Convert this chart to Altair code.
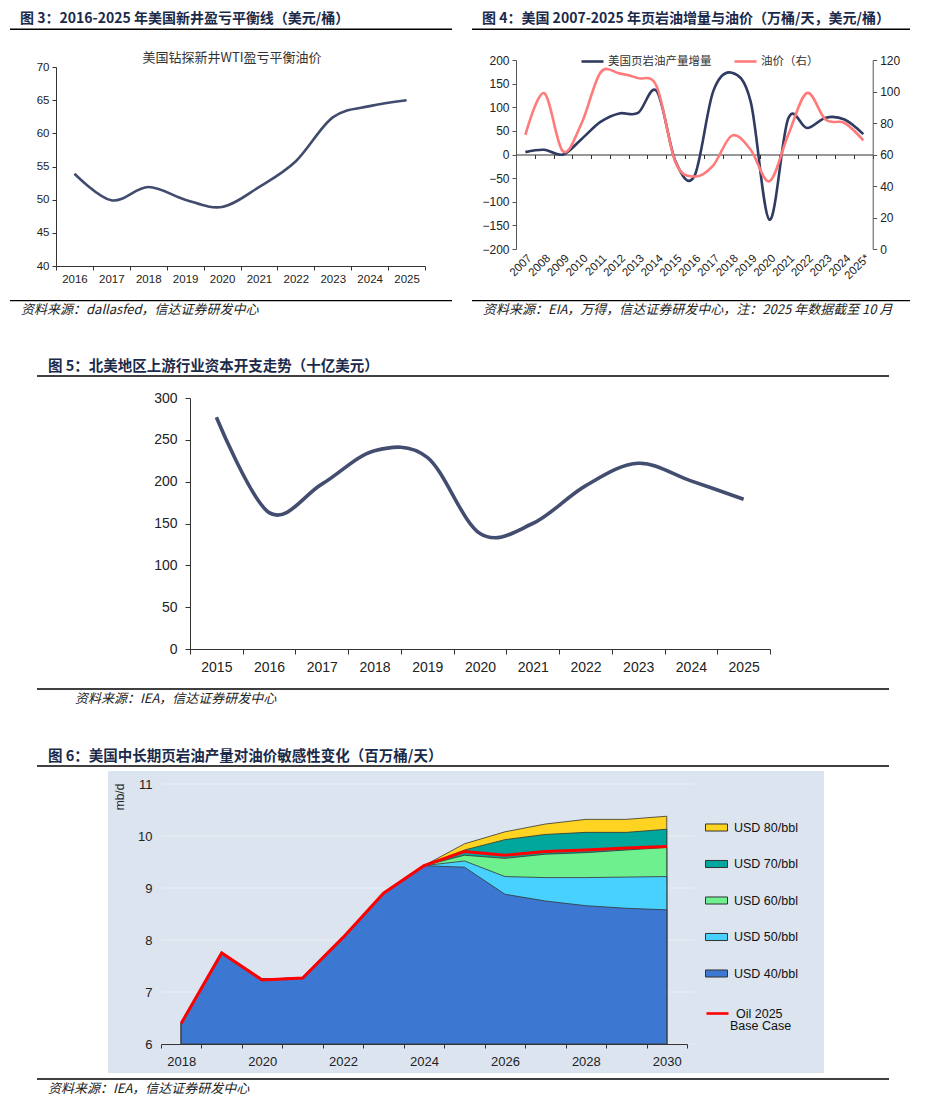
import altair as alt
import pandas as pd

CJK = "Noto Sans CJK SC"
NUM = "Liberation Sans"
TITLE_C = "#1B2A4A"
SRC_C = "#222222"
W, H = 912, 1095  # whole canvas (page minus 8px margin)

# ---------------- Figure 3 data ----------------
f3_title = "图 3：2016-2025 年美国新井盈亏平衡线（美元/桶）"
f3_subtitle = "美国钻探新井WTI盈亏平衡油价"
f3_source = "资料来源：dallasfed，信达证券研发中心"
f3_years = ["2016", "2017", "2018", "2019", "2020", "2021", "2022", "2023", "2024", "2025"]
f3_breakeven = [53.9, 49.9, 51.9, 50.0, 48.9, 51.9, 55.8, 62.4, 64.1, 65.0]
f3_yticks = [40, 45, 50, 55, 60, 65, 70]

# ---------------- Figure 4 data ----------------
f4_title = "图 4：美国 2007-2025 年页岩油增量与油价（万桶/天，美元/桶）"
f4_source = "资料来源：EIA，万得，信达证券研发中心，注：2025 年数据截至 10 月"
f4_years = ["2007", "2008", "2009", "2010", "2011", "2012", "2013", "2014", "2015", "2016",
            "2017", "2018", "2019", "2020", "2021", "2022", "2023", "2024", "2025*"]
f4_growth = [5, 10, 0, 33, 69, 87, 88, 134, -15, -46, 133, 173, 112, -138, 76, 56, 78, 74, 43]
f4_price = [72.5, 99, 62, 80, 112, 111.5, 108.5, 103, 55, 46, 53, 72, 63, 43, 72.5, 99, 82, 80, 69]
f4_series = ["美国页岩油产量增量", "油价（右）"]
f4_left_ticks = [-200, -150, -100, -50, 0, 50, 100, 150, 200]
f4_right_ticks = [0, 20, 40, 60, 80, 100, 120]

# ---------------- Figure 5 data ----------------
f5_title = "图 5：北美地区上游行业资本开支走势（十亿美元）"
f5_source = "资料来源：IEA，信达证券研发中心"
f5_years = ["2015", "2016", "2017", "2018", "2019", "2020", "2021", "2022", "2023", "2024", "2025"]
f5_capex = [277, 163, 197, 237, 229, 138, 150, 195, 222, 201, 179]
f5_yticks = [0, 50, 100, 150, 200, 250, 300]

# ---------------- Figure 6 data ----------------
f6_title = "图 6：美国中长期页岩油产量对油价敏感性变化（百万桶/天）"
f6_source = "资料来源：IEA，信达证券研发中心"
f6_years = [2018, 2019, 2020, 2021, 2022, 2023, 2024, 2025, 2026, 2027, 2028, 2029, 2030]
f6_usd40 = [6.4, 7.75, 7.25, 7.27, 8.05, 8.9, 9.43, 9.40, 8.88, 8.75, 8.66, 8.61, 8.58]
f6_usd50 = [6.4, 7.75, 7.25, 7.27, 8.05, 8.9, 9.43, 9.52, 9.22, 9.20, 9.20, 9.21, 9.22]
f6_usd60 = [6.4, 7.75, 7.25, 7.27, 8.05, 8.9, 9.43, 9.63, 9.57, 9.65, 9.68, 9.73, 9.78]
f6_usd70 = [6.4, 7.75, 7.25, 7.27, 8.05, 8.9, 9.43, 9.73, 9.93, 10.03, 10.07, 10.07, 10.13]
f6_usd80 = [6.4, 7.75, 7.25, 7.27, 8.05, 8.9, 9.43, 9.85, 10.08, 10.23, 10.32, 10.32, 10.38]
f6_basecase = [6.4, 7.75, 7.23, 7.27, 8.05, 8.9, 9.43, 9.70, 9.63, 9.70, 9.73, 9.77, 9.80]
f6_scenarios = ["USD 80/bbl", "USD 70/bbl", "USD 60/bbl", "USD 50/bbl", "USD 40/bbl"]
f6_colors = ["#FFD321", "#00A79D", "#6EF08E", "#48D1FF", "#3C78D2"]
f6_base_label = "Oil 2025"
f6_base_label2 = "Base Case"
f6_yticks = [6, 7, 8, 9, 10, 11]
f6_xlabels = [2018, 2020, 2022, 2024, 2026, 2028, 2030]
f6_xticks = [2017.5 + i for i in range(14)]
f6_xdomain = [2017.5, 2030.5]
f6_unit = "mb/d"


# ---------------- helpers (page px -> canvas px) ----------------
def cx(px):
    return px - 8


def cy(py):
    return py - 8


def one(v="x"):
    return pd.DataFrame({"t": [v]})


def text_at(s, px, py, size, weight="normal", style="normal", align="left",
            color=SRC_C, font=CJK, angle=0):
    return alt.Chart(one(s)).mark_text(
        align=align, baseline="middle", fontSize=size, fontWeight=weight,
        fontStyle=style, color=color, font=font, angle=angle
    ).encode(text="t:N", x=alt.value(cx(px)), y=alt.value(cy(py)))


def hrule(px1, px2, py, color="#000000", width=1.2):
    return alt.Chart(one()).mark_rule(color=color, strokeWidth=width).encode(
        x=alt.value(cx(px1)), x2=alt.value(cx(px2)), y=alt.value(cy(py)))


def band(domain, px0, px1):
    return alt.Scale(domain=domain, range=[cx(px0), cx(px1)], paddingInner=0, paddingOuter=0)


def lin(domain, py_bottom, py_top):
    return alt.Scale(domain=domain, range=[cy(py_bottom), cy(py_top)], nice=False, zero=False)


AX = dict(title=None, grid=False, zindex=1, labelFont=NUM, labelColor="#222222",
          domainColor="#333333", tickColor="#333333")


def bottom_axis(py, **kw):
    base = dict(AX, orient="bottom", offset=cy(py) - H)
    base.update(kw)
    return alt.Axis(**base)


def left_axis(px, **kw):
    base = dict(AX, orient="left", offset=-cx(px))
    base.update(kw)
    return alt.Axis(**base)


def right_axis(px, **kw):
    base = dict(AX, orient="right", offset=cx(px) - W)
    base.update(kw)
    return alt.Axis(**base)


layers = []

# ---------------- Figure 3 ----------------
f3_df = pd.DataFrame({"year": f3_years, "v": f3_breakeven})
layers += [
    text_at(f3_title, 20, 18.5, 14, weight="bold", color=TITLE_C),
    hrule(10, 452, 29.3, width=1.5),
    text_at(f3_subtitle, 232, 58, 13, align="center", color="#333333"),
    alt.Chart(f3_df).mark_line(color="#414B6E", strokeWidth=2.6, interpolate="cardinal").encode(
        x=alt.X("year:N", scale=band(f3_years, 56, 425),
                axis=bottom_axis(266, labelAngle=0, tickBand="extent", tickSize=4,
                                 labelPadding=3, labelFontSize=11.5)),
        y=alt.Y("v:Q", scale=lin([40, 70], 266, 67),
                axis=left_axis(56, values=f3_yticks, tickSize=4, labelPadding=3, labelFontSize=11.5))),
    hrule(10, 452, 300.7, width=1.3),
    text_at(f3_source, 21, 310, 13, style="italic"),
]

# ---------------- Figure 4 ----------------
f4_df = pd.DataFrame({"year": f4_years, "growth": f4_growth, "price": f4_price})
f4_color = alt.Scale(domain=f4_series, range=["#2F3B60", "#FF7A7A"])
F4X0, F4X1, F4YB, F4YT = 516, 872.7, 249, 60
f4_zero_py = (F4YB + F4YT) / 2
layers += [
    text_at(f4_title, 482, 18.5, 14, weight="bold", color=TITLE_C),
    hrule(472, 910, 29.3, width=1.5),
    # zero line with band-edge ticks (an axis on its own copy of the x scale)
    alt.Chart(f4_df).mark_point(opacity=0).encode(
        x=alt.X("year:N", scale=band(f4_years, F4X0, F4X1),
                axis=bottom_axis(f4_zero_py, labels=False, tickBand="extent", tickSize=4,
                                 domainWidth=1.2, domainColor="#333333", zindex=0))),
    alt.Chart(f4_df).transform_calculate(series="'" + f4_series[0] + "'").mark_line(
        strokeWidth=2.6, interpolate="cardinal").encode(
        x=alt.X("year:N", scale=band(f4_years, F4X0, F4X1),
                axis=bottom_axis(F4YB, labelAngle=-45, labelAlign="right", labelBaseline="top",
                                 domain=False, ticks=False, labelPadding=3, labelFontSize=11.5)),
        y=alt.Y("growth:Q", scale=lin([-200, 200], F4YB, F4YT),
                axis=left_axis(F4X0, values=f4_left_ticks, tickSize=4, labelPadding=3,
                               labelFontSize=12, domainColor="#555555", tickColor="#555555")),
        color=alt.Color("series:N", scale=f4_color,
                        legend=alt.Legend(title=None, orient="none", legendX=cx(580), legendY=cy(49),
                                          direction="horizontal", symbolType="stroke",
                                          symbolSize=484, symbolStrokeWidth=2.6,
                                          labelFont=CJK, labelFontSize=11.5, labelColor="#333333",
                                          labelOffset=3, columnPadding=17, padding=0))),
    alt.Chart(f4_df).transform_calculate(series="'" + f4_series[1] + "'").mark_line(
        strokeWidth=2.6, interpolate="cardinal").encode(
        x=alt.X("year:N", scale=band(f4_years, F4X0, F4X1), axis=None),
        y=alt.Y("price:Q", scale=lin([0, 120], F4YB, F4YT),
                axis=right_axis(F4X1, values=f4_right_ticks, tickSize=4, labelPadding=3,
                                labelFontSize=12, domainColor="#555555", tickColor="#555555")),
        color=alt.Color("series:N", scale=f4_color)),
    hrule(472, 910, 300.7, width=1.3),
    text_at(f4_source, 483, 310, 13, style="italic"),
]

# ---------------- Figure 5 ----------------
f5_df = pd.DataFrame({"year": f5_years, "v": f5_capex})
layers += [
    text_at(f5_title, 48, 367, 14.5, weight="bold", color=TITLE_C),
    hrule(37, 889, 376, width=1.5),
    alt.Chart(f5_df).mark_line(color="#434D6F", strokeWidth=3.6, interpolate="cardinal").encode(
        x=alt.X("year:N", scale=band(f5_years, 190, 770),
                axis=bottom_axis(649, labelAngle=0, tickBand="extent", tickSize=5,
                                 labelPadding=6, labelFontSize=14)),
        y=alt.Y("v:Q", scale=lin([0, 300], 649, 398),
                axis=left_axis(190, values=f5_yticks, tickSize=5, labelPadding=8, labelFontSize=14))),
    hrule(37, 889, 689, width=1.3),
    text_at(f5_source, 75, 699, 13, style="italic"),
]

# ---------------- Figure 6 ----------------
F6X0, F6X1, F6YB, F6YT = 161, 687, 1044, 784
rows = []
for name, vals in zip(f6_scenarios, [f6_usd80, f6_usd70, f6_usd60, f6_usd50, f6_usd40]):
    for yr, v in zip(f6_years, vals):
        rows.append({"scenario": name, "year": yr, "v": v})
f6_df = pd.DataFrame(rows)
f6_base_df = pd.DataFrame({"year": f6_years, "v": f6_basecase, "case": f6_base_label})
f6_xs = alt.Scale(domain=f6_xdomain, range=[cx(F6X0), cx(F6X1)], nice=False, zero=False)
f6_ys = lin([6, 11], F6YB, F6YT)
fill_scale = alt.Scale(domain=f6_scenarios, range=f6_colors)

layers += [
    text_at(f6_title, 48, 757, 14.5, weight="bold", color=TITLE_C),
    hrule(37, 889, 766, width=1.5),
    alt.Chart(one()).mark_rect(color="#DCE4F0").encode(
        x=alt.value(cx(108)), x2=alt.value(cx(824)), y=alt.value(cy(771)), y2=alt.value(cy(1073))),
    alt.Chart(pd.DataFrame({"g": f6_yticks})).mark_rule(color="#E9EEF6", strokeWidth=1).encode(
        y=alt.Y("g:Q", scale=f6_ys,
                axis=left_axis(F6X0, values=f6_yticks, domain=False, ticks=False,
                               labelPadding=9, labelFontSize=13)),
        x=alt.value(cx(F6X0)), x2=alt.value(cx(F6X1 + 8))),
]
for i, name in enumerate(f6_scenarios):
    leg = None
    if i == 0:
        leg = alt.Legend(title=None, orient="none", legendX=cx(705), legendY=cy(816),
                         direction="vertical", symbolType="M-1,-0.32H1V0.32H-1Z",
                         symbolSize=484, symbolStrokeColor="#333333", symbolStrokeWidth=1,
                         rowPadding=18.5, labelOffset=6, labelFont=NUM, labelFontSize=12.5,
                         labelColor="#111111", padding=0, symbolOpacity=1)
    xax = None
    if i == 0:
        xax = bottom_axis(F6YB, values=f6_xlabels, format="d", domain=False, ticks=False,
                          labelPadding=11, labelFontSize=13, labelFlush=False)
    layers.append(
        alt.Chart(f6_df).transform_filter(alt.datum.scenario == name).mark_area(
            stroke="#333333", strokeWidth=0.8, opacity=1).encode(
            x=alt.X("year:Q", scale=f6_xs, axis=xax),
            y=alt.Y("v:Q", scale=f6_ys, axis=None),
            y2=alt.datum(6),
            fill=alt.Fill("scenario:N", scale=fill_scale, legend=leg)))

layers += [
    alt.Chart(f6_base_df).mark_line(strokeWidth=3).encode(
        x=alt.X("year:Q", scale=f6_xs, axis=None),
        y=alt.Y("v:Q", scale=f6_ys, axis=None),
        stroke=alt.Stroke("case:N", scale=alt.Scale(domain=[f6_base_label], range=["#FF0000"]),
                          legend=alt.Legend(title=None, orient="none", legendX=cx(705), legendY=cy(1001),
                                            symbolType="stroke", symbolSize=484, symbolStrokeWidth=2.6,
                                            labelOffset=6, labelFont=NUM, labelFontSize=12.5,
                                            labelColor="#111111", padding=0))),
    # axis line with half-year ticks (own copy of the x scale)
    alt.Chart(pd.DataFrame({"year": f6_xdomain})).mark_point(opacity=0).encode(
        x=alt.X("year:Q", scale=f6_xs,
                axis=bottom_axis(F6YB, values=f6_xticks + [2030.5], labels=False, tickSize=4))),
    text_at(f6_unit, 120, 797, 12, align="center", color="#222222", font=NUM, angle=270),
    text_at(f6_base_label2, 730, 1026, 12.5, color="#111111", font=NUM),
    hrule(37, 889, 1079, width=1.3),
    text_at(f6_source, 48, 1089, 13, style="italic"),
]

chart = alt.layer(*layers).resolve_scale(
    x="independent", y="independent"
).properties(
    width=W, height=H, padding=0, autosize=alt.AutoSizeParams(type="none")
).configure_view(stroke=None)

chart.save("out.html", embed_options={"renderer": "svg", "actions": False})
